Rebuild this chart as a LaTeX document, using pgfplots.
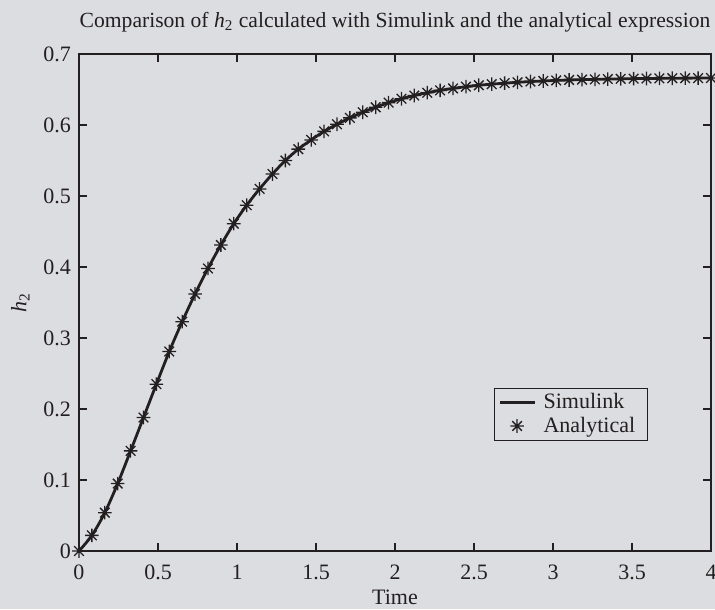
\documentclass[border=0pt]{standalone}
\usepackage{fontspec}
\setmainfont{Liberation Serif}
\usepackage{pgfplots}
\pgfplotsset{compat=1.18}
\usepackage{pgfplotstable}
\definecolor{bgc}{HTML}{DCDDE0}
\definecolor{ink}{HTML}{231F20}
\pagecolor{bgc}

% MATLAB-like asterisk: a plus and a cross on top of each other
\pgfdeclareplotmark{ast8}{%
  \pgfpathmoveto{\pgfqpoint{-\pgfplotmarksize}{0pt}}\pgfpathlineto{\pgfqpoint{\pgfplotmarksize}{0pt}}%
  \pgfpathmoveto{\pgfqpoint{0pt}{-\pgfplotmarksize}}\pgfpathlineto{\pgfqpoint{0pt}{\pgfplotmarksize}}%
  \pgfpathmoveto{\pgfqpoint{-0.707\pgfplotmarksize}{-0.707\pgfplotmarksize}}\pgfpathlineto{\pgfqpoint{0.707\pgfplotmarksize}{0.707\pgfplotmarksize}}%
  \pgfpathmoveto{\pgfqpoint{-0.707\pgfplotmarksize}{0.707\pgfplotmarksize}}\pgfpathlineto{\pgfqpoint{0.707\pgfplotmarksize}{-0.707\pgfplotmarksize}}%
  \pgfusepathqstroke}

% h2 at 50 equally spaced times between 0 and 4
\pgfplotstableread{
t      h
0.0000 0.0000
0.0816 0.0220
0.1633 0.0540
0.2449 0.0950
0.3265 0.1410
0.4082 0.1880
0.4898 0.2350
0.5714 0.2810
0.6531 0.3230
0.7347 0.3620
0.8163 0.3980
0.8980 0.4310
0.9796 0.4610
1.0612 0.4870
1.1429 0.5100
1.2245 0.5310
1.3061 0.5500
1.3878 0.5660
1.4694 0.5790
1.5510 0.5910
1.6327 0.6010
1.7143 0.6100
1.7959 0.6180
1.8776 0.6250
1.9592 0.6315
2.0408 0.6370
2.1224 0.6415
2.2041 0.6455
2.2857 0.6488
2.3673 0.6515
2.4490 0.6540
2.5306 0.6560
2.6122 0.6575
2.6939 0.6589
2.7755 0.6601
2.8571 0.6612
2.9388 0.6620
3.0204 0.6628
3.1020 0.6634
3.1837 0.6639
3.2653 0.6643
3.3469 0.6647
3.4286 0.6650
3.5102 0.6653
3.5918 0.6655
3.6735 0.6657
3.7551 0.6659
3.8367 0.6660
3.9184 0.6661
4.0000 0.6662
}\hdata

\begin{document}
\begin{tikzpicture}
\begin{axis}[
  scale only axis,
  width=316pt, height=248.5pt,
  xmin=0, xmax=4, ymin=0, ymax=0.7,
  xtick={0,0.5,...,4},
  ytick={0,0.1,...,0.7},
  yticklabels={0,0.1,0.2,0.3,0.4,0.5,0.6,0.7},
  xticklabels={0,0.5,1,1.5,2,2.5,3,3.5,4},
  tick align=inside,
  major tick length=4pt,
  axis line style={ink, line width=0.6pt},
  every tick/.style={ink, line width=0.6pt},
  tick label style={font=\fontsize{11}{12}\selectfont, text=ink},
  /pgf/number format/assume math mode=true,
  xticklabel style={yshift=-3.5pt},
  yticklabel style={xshift=-0.5pt},
  title={Comparison of \textit{h}\textsubscript{2} calculated with Simulink and the analytical expression},
  title style={font=\fontsize{10.8}{12}\selectfont, text=ink, at={(0.5,1)}, anchor=south, yshift=1.5pt},
  xlabel={Time},
  ylabel={\textit{h}\textsubscript{2}},
  label style={font=\fontsize{11}{12}\selectfont, text=ink},
  xlabel style={yshift=2pt},
  ylabel style={yshift=0pt},
  legend style={at={(0.9,0.328)}, anchor=north east, draw=ink, line width=0.6pt,
    fill=bgc, font=\fontsize{11}{12}\selectfont, text=ink,
    inner xsep=2pt, inner ysep=0.5pt, row sep=-1.5pt,
    nodes={inner xsep=4pt}},
  legend cell align=left,
  after end axis/.code={
    \coordinate (sw) at (rel axis cs:0,0);
    \coordinate (ne) at (rel axis cs:1,1);
  },
]
\addplot[ink, line width=1.4pt, smooth, no marks] table[x=t, y=h] {\hdata};
\addlegendentry{Simulink}
\addplot[ink, only marks, mark=ast8, mark size=3.4pt, line width=0.65pt] table[x=t, y=h] {\hdata};
\addlegendentry{Analytical}
\end{axis}
\pgfresetboundingbox
\path ([xshift=-39.5pt,yshift=-29pt]sw) rectangle ([xshift=2pt,yshift=27pt]ne);
\end{tikzpicture}
\end{document}
